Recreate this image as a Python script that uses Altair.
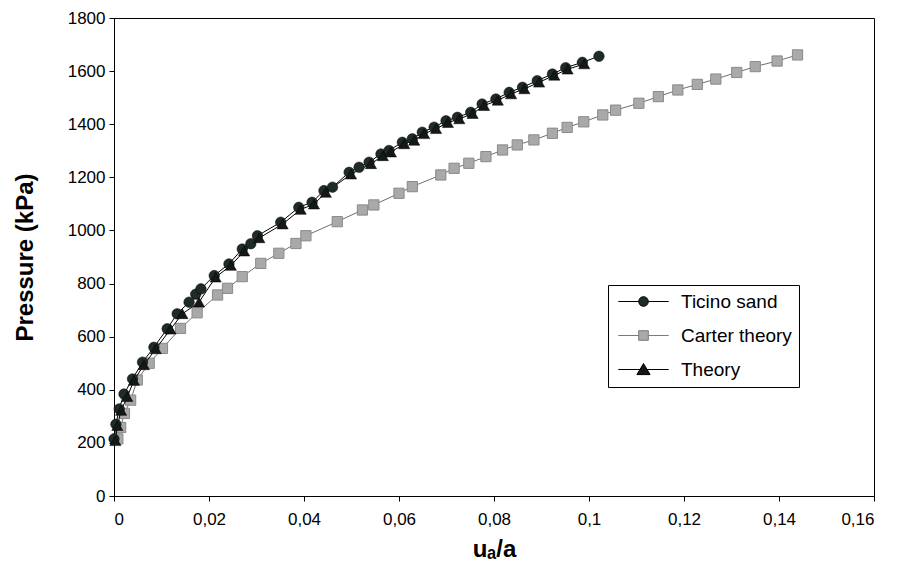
import altair as alt
import pandas as pd

# ---------------- data ----------------
ticino_x = [0.0000, 0.0004, 0.0011, 0.0021, 0.0039, 0.0060, 0.0084, 0.0112, 0.0133, 0.0158,
            0.0172, 0.0183, 0.0211, 0.0242, 0.0270, 0.0288, 0.0302, 0.0351, 0.0389, 0.0417,
            0.0442, 0.0460, 0.0495, 0.0516, 0.0537, 0.0562, 0.0579, 0.0607, 0.0628, 0.0649,
            0.0674, 0.0699, 0.0723, 0.0751, 0.0775, 0.0804, 0.0832, 0.0860, 0.0891, 0.0923,
            0.0951, 0.0986, 0.1021]
ticino_p = [215, 270, 328, 384, 441, 504, 560, 630, 686, 730,
            760, 780, 830, 874, 930, 950, 980, 1031, 1087, 1106,
            1150, 1163, 1219, 1238, 1257, 1288, 1301, 1332, 1345, 1370,
            1389, 1413, 1426, 1445, 1476, 1495, 1520, 1539, 1564, 1589,
            1613, 1633, 1656]

theory_x = [0.0003, 0.0007, 0.0015, 0.0028, 0.0042, 0.0063, 0.0088, 0.0119, 0.0144, 0.0179,
            0.0214, 0.0246, 0.0274, 0.0306, 0.0355, 0.0393, 0.0421, 0.0446, 0.0499, 0.0541,
            0.0566, 0.0583, 0.0611, 0.0632, 0.0653, 0.0678, 0.0703, 0.0727, 0.0755, 0.0779,
            0.0808, 0.0836, 0.0864, 0.0895, 0.0927, 0.0955, 0.0990]
theory_p = [208, 265, 322, 374, 435, 494, 554, 628, 686, 730,
            824, 868, 922, 972, 1024, 1079, 1099, 1143, 1212, 1251,
            1281, 1295, 1326, 1339, 1364, 1383, 1406, 1420, 1440, 1470,
            1490, 1514, 1533, 1558, 1584, 1607, 1627]

carter_x = [0.0008, 0.0014, 0.0022, 0.0035, 0.0049, 0.0074, 0.0102, 0.0140, 0.0175, 0.0218,
            0.0239, 0.0270, 0.0309, 0.0347, 0.0383, 0.0404, 0.0470, 0.0523, 0.0547, 0.0600,
            0.0628, 0.0688, 0.0716, 0.0747, 0.0783, 0.0818, 0.0849, 0.0884, 0.0923, 0.0954,
            0.0989, 0.1029, 0.1056, 0.1105, 0.1146, 0.1187, 0.1228, 0.1267, 0.1311, 0.1350,
            0.1396, 0.1439]
carter_p = [215, 258, 311, 361, 437, 500, 556, 631, 690, 757,
            782, 826, 876, 914, 951, 980, 1033, 1077, 1096, 1140,
            1165, 1209, 1234, 1253, 1278, 1303, 1322, 1341, 1366, 1388,
            1409, 1435, 1453, 1479, 1504, 1529, 1550, 1570, 1595, 1617,
            1638, 1661]

series_names = ["Ticino sand", "Carter theory", "Theory"]
x_ticks = [0, 0.02, 0.04, 0.06, 0.08, 0.1, 0.12, 0.14, 0.16]
y_ticks = [0, 200, 400, 600, 800, 1000, 1200, 1400, 1600, 1800]

# ---------------- styling ----------------
FONT = "Liberation Sans, Arial, sans-serif"
C_TICINO = "#1e2b28"
C_THEORY = "#141816"
C_CARTER = "#a9a9a9"
C_CARTER_EDGE = "#8a8a8a"

# legend glyphs: line stub + marker (custom symbol paths)
P_CIRCLE = "M-4.2,0H-0.8M0.8,0H4.2M-0.8,0A0.8,0.8 0 1,0 0.8,0A0.8,0.8 0 1,0 -0.8,0Z"
P_SQUARE = "M-4.2,0H-0.8M0.8,0H4.2M-0.8,-0.8H0.8V0.8H-0.8Z"
P_TRI = "M-4.2,0H-0.55M0.55,0H4.2M0,-1L1.1,0.85H-1.1Z"


def frame(xs, ps, name):
    return pd.DataFrame({"x": xs, "p": ps, "series": name})


df_t = frame(ticino_x, ticino_p, series_names[0])
df_c = frame(carter_x, carter_p, series_names[1])
df_h = frame(theory_x, theory_p, series_names[2])

x_enc = alt.X(
    "x:Q",
    scale=alt.Scale(domain=[0, 0.16], nice=False),
    axis=alt.Axis(
        values=x_ticks,
        labelExpr="replace(format(datum.value, '.2~f'), '.', ',')",
        title="uₐ/a",
        labelPadding=10,
        titlePadding=10,
    ),
)
y_enc = alt.Y(
    "p:Q",
    scale=alt.Scale(domain=[0, 1800], nice=False),
    axis=alt.Axis(values=y_ticks, format="d", title="Pressure (kPa)", labelPadding=4, titlePadding=30),
)

carter_line = alt.Chart(df_c).mark_line(color="#6e6e6e", strokeWidth=1).encode(x=x_enc, y=y_enc)
carter_pts = alt.Chart(df_c).mark_point(
    shape="square", filled=True, fill=C_CARTER, stroke=C_CARTER_EDGE, strokeWidth=1, size=105, opacity=1
).encode(x=x_enc, y=y_enc)

theory_line = alt.Chart(df_h).mark_line(color="#000000", strokeWidth=1).encode(x=x_enc, y=y_enc)
ticino_line = alt.Chart(df_t).mark_line(color="#000000", strokeWidth=1).encode(x=x_enc, y=y_enc)

ticino_pts = alt.Chart(df_t).mark_point(
    shape="circle", filled=True, fill=C_TICINO, stroke="#000000", strokeWidth=0.5, size=110, opacity=1
).encode(x=x_enc, y=y_enc)
theory_pts = alt.Chart(df_h).mark_point(
    shape="triangle-up", filled=True, fill=C_THEORY, stroke="#000000", strokeWidth=0.5, size=125, opacity=1
).encode(x=x_enc, y=y_enc)

leg = alt.Legend(
    title=None,
    orient="none",
    legendX=494,
    legendY=267,
    padding=7,
    strokeColor="#000000",
    fillColor="#ffffff",
    labelFont=FONT,
    labelFontSize=19,
    labelColor="#000000",
    symbolSize=144,
    symbolStrokeWidth=1,
    symbolOffset=19,
    labelOffset=28,
    rowPadding=14,
)
legend_df = pd.DataFrame({"series": series_names})
legend_layer = (
    alt.Chart(legend_df)
    .transform_filter("false")
    .mark_point(filled=True, size=144, strokeWidth=1, opacity=1)
    .encode(
        shape=alt.Shape("series:N", scale=alt.Scale(domain=series_names, range=[P_CIRCLE, P_SQUARE, P_TRI]), legend=leg),
        fill=alt.Fill("series:N", scale=alt.Scale(domain=series_names, range=[C_TICINO, C_CARTER, C_THEORY]), legend=leg),
        stroke=alt.Stroke("series:N", scale=alt.Scale(domain=series_names, range=["#000000", "#7a7a7a", "#000000"]), legend=leg),
    )
)

chart = (
    alt.layer(carter_line, carter_pts, theory_line, ticino_line, ticino_pts, theory_pts, legend_layer)
    .properties(width=760, height=478, padding={"left": 5, "top": 1, "right": 5, "bottom": 0}, background="white")
    .configure_view(stroke="#000000", strokeWidth=1)
    .configure_axis(
        grid=False,
        domainColor="#000000",
        domainWidth=1,
        tickColor="#000000",
        tickSize=5,
        labelFont=FONT,
        labelFontSize=17,
        labelColor="#000000",
        titleFont=FONT,
        titleFontSize=24,
        titleFontWeight="bold",
        titleColor="#000000",
    )
)

chart.save("out.html", embed_options={"renderer": "svg", "actions": False})
